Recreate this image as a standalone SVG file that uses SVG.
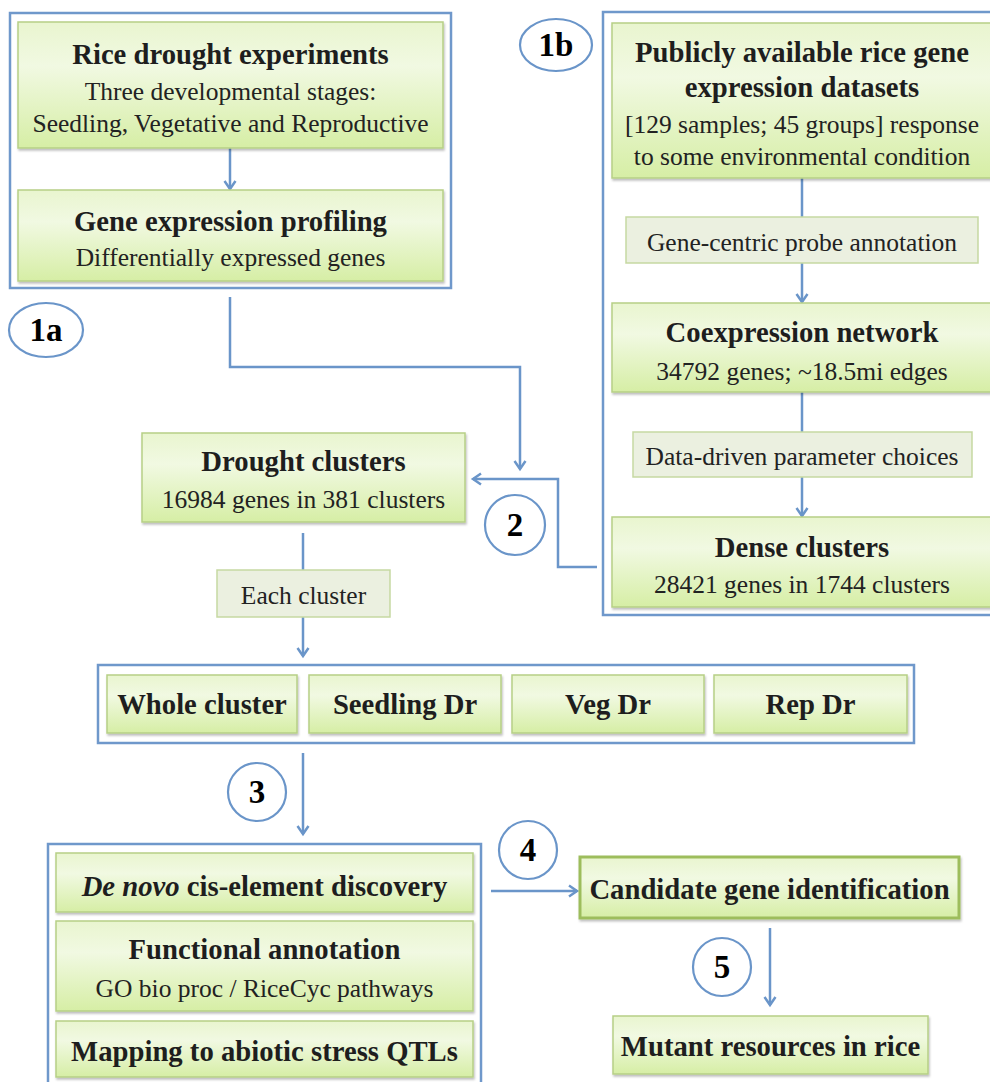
<svg xmlns="http://www.w3.org/2000/svg" width="990" height="1082" viewBox="0 0 990 1082">
<style>
  .grp{fill:none;stroke:#6f98cb;stroke-width:2.5}
  .box{fill:url(#g);stroke:#b6cf86;stroke-width:1.5;filter:url(#sh)}
  .lbl{fill:#ebf0e0;stroke:#c6d9a2;stroke-width:1.5}
  .t{font-family:"Liberation Serif","Times New Roman",serif;font-weight:bold;font-size:28.7px;fill:#1e1e1e;text-anchor:middle}
  .s{font-family:"Liberation Serif","Times New Roman",serif;font-size:25.5px;fill:#222;text-anchor:middle}
  .c{fill:#fff;stroke:#6a95c9;stroke-width:2.2}
  .n{font-family:"Liberation Serif","Times New Roman",serif;font-weight:bold;font-size:33px;fill:#000;text-anchor:middle}
  .ln{fill:none;stroke:#6a95c9;stroke-width:2.5}
</style>
<defs>
  <linearGradient id="g" x1="0" y1="0" x2="0" y2="1">
    <stop offset="0" stop-color="#e9f5cf"/>
    <stop offset="0.35" stop-color="#f1f9e2"/>
    <stop offset="1" stop-color="#d6eea5"/>
  </linearGradient>
  <filter id="sh" x="-5%" y="-10%" width="110%" height="130%">
    <feDropShadow dx="1" dy="2" stdDeviation="1.2" flood-color="#000" flood-opacity="0.25"/>
  </filter>
  <marker id="ah" viewBox="0 0 14 14" refX="11" refY="7" markerWidth="14" markerHeight="14" orient="auto" markerUnits="userSpaceOnUse">
    <path d="M3,1.5 L11,7 L3,12.5" fill="none" stroke="#6a95c9" stroke-width="2.5"/>
  </marker>
</defs>
<rect width="990" height="1082" fill="#fff"/>

<g id="group-1a"><rect class="grp" x="10" y="13" width="441" height="275"/></g>
<g id="group-1b"><rect class="grp" x="603" y="12" width="395" height="603"/></g>
<g id="group-split"><rect class="grp" x="98" y="665" width="816" height="78"/></g>
<g id="group-analysis"><rect class="grp" x="48" y="844" width="433" height="250"/></g>

<g id="connectors">
  <line class="ln" x1="230" y1="148" x2="230" y2="189" marker-end="url(#ah)"/>
  <path class="ln" d="M230,297 V367 H520 V469" marker-end="url(#ah)"/>
  <line class="ln" x1="802" y1="178" x2="802" y2="217"/>
  <line class="ln" x1="802" y1="263" x2="802" y2="302" marker-end="url(#ah)"/>
  <line class="ln" x1="802" y1="392" x2="802" y2="432"/>
  <line class="ln" x1="802" y1="477" x2="802" y2="516" marker-end="url(#ah)"/>
  <path class="ln" d="M597,567 H558 V479 H473" marker-end="url(#ah)"/>
  <line class="ln" x1="303" y1="533" x2="303" y2="570"/>
  <line class="ln" x1="303" y1="617" x2="303" y2="656" marker-end="url(#ah)"/>
  <line class="ln" x1="303" y1="753" x2="303" y2="834" marker-end="url(#ah)"/>
  <line class="ln" x1="491" y1="891" x2="577" y2="891" marker-end="url(#ah)"/>
  <line class="ln" x1="770" y1="928" x2="770" y2="1005" marker-end="url(#ah)"/>
</g>

<g id="rice-drought">
  <rect class="box" x="18" y="22" width="425" height="126"/>
  <text class="t" x="230.5" y="64">Rice drought experiments</text>
  <text class="s" x="230.5" y="100">Three developmental stages:</text>
  <text class="s" x="230.5" y="132">Seedling, Vegetative and Reproductive</text>
</g>
<g id="gene-expression">
  <rect class="box" x="18" y="190" width="425" height="91"/>
  <text class="t" x="230.5" y="231">Gene expression profiling</text>
  <text class="s" x="230.5" y="266">Differentially expressed genes</text>
</g>
<g id="label-1a"><ellipse class="c" cx="46" cy="330" rx="37" ry="27"/><text class="n" x="46" y="341">1a</text></g>

<g id="public-datasets">
  <rect class="box" x="612" y="23" width="384" height="155"/>
  <text class="t" x="802" y="62">Publicly available rice gene</text>
  <text class="t" x="802" y="97">expression datasets</text>
  <text class="s" x="802" y="133">[129 samples; 45 groups] response</text>
  <text class="s" x="802" y="165">to some environmental condition</text>
</g>
<g id="probe-annotation">
  <rect class="lbl" x="626" y="217" width="352" height="46"/>
  <text class="s" x="802" y="251">Gene-centric probe annotation</text>
</g>
<g id="coexpression">
  <rect class="box" x="612" y="303" width="384" height="89"/>
  <text class="t" x="802" y="342">Coexpression network</text>
  <text class="s" x="802" y="380">34792 genes; ~18.5mi edges</text>
</g>
<g id="parameter-choices">
  <rect class="lbl" x="633" y="432" width="339" height="45"/>
  <text class="s" x="802" y="465">Data-driven parameter choices</text>
</g>
<g id="dense-clusters">
  <rect class="box" x="612" y="517" width="384" height="90"/>
  <text class="t" x="802" y="557">Dense clusters</text>
  <text class="s" x="802" y="593">28421 genes in 1744 clusters</text>
</g>
<g id="label-1b"><ellipse class="c" cx="556" cy="45" rx="36" ry="26"/><text class="n" x="556" y="56">1b</text></g>

<g id="drought-clusters">
  <rect class="box" x="142" y="433" width="323" height="89"/>
  <text class="t" x="303.5" y="471">Drought clusters</text>
  <text class="s" x="303.5" y="508">16984 genes in 381 clusters</text>
</g>
<g id="label-2"><circle class="c" cx="515" cy="525" r="30"/><text class="n" x="515" y="536">2</text></g>
<g id="each-cluster">
  <rect class="lbl" x="217" y="570" width="173" height="47"/>
  <text class="s" x="303.5" y="604">Each cluster</text>
</g>

<g id="whole-cluster"><rect class="box" x="107" y="675" width="190" height="58"/><text class="t" x="202" y="714">Whole cluster</text></g>
<g id="seedling-dr"><rect class="box" x="309" y="675" width="192" height="58"/><text class="t" x="405" y="714">Seedling Dr</text></g>
<g id="veg-dr"><rect class="box" x="512" y="675" width="192" height="58"/><text class="t" x="608" y="714">Veg Dr</text></g>
<g id="rep-dr"><rect class="box" x="714" y="675" width="193" height="58"/><text class="t" x="810.5" y="714">Rep Dr</text></g>

<g id="label-3"><circle class="c" cx="257" cy="792" r="29"/><text class="n" x="257" y="803">3</text></g>

<g id="de-novo">
  <rect class="box" x="56" y="853" width="417" height="59"/>
  <text class="t" x="264.5" y="896"><tspan font-style="italic">De novo</tspan> cis-element discovery</text>
</g>
<g id="functional-annotation">
  <rect class="box" x="56" y="921" width="417" height="90"/>
  <text class="t" x="264.5" y="959">Functional annotation</text>
  <text class="s" x="264.5" y="997">GO bio proc / RiceCyc pathways</text>
</g>
<g id="qtl-mapping">
  <rect class="box" x="56" y="1021" width="417" height="56"/>
  <text class="t" x="264.5" y="1061">Mapping to abiotic stress QTLs</text>
</g>

<g id="label-4"><circle class="c" cx="528" cy="850" r="29"/><text class="n" x="528" y="861">4</text></g>
<g id="candidate-gene">
  <rect class="box" x="580" y="857" width="379" height="61" style="stroke:#9dbd5c;stroke-width:3"/>
  <text class="t" x="769.5" y="899">Candidate gene identification</text>
</g>
<g id="label-5"><circle class="c" cx="722" cy="967" r="29"/><text class="n" x="722" y="978">5</text></g>
<g id="mutant-resources">
  <rect class="box" x="613" y="1016" width="315" height="58"/>
  <text class="t" x="770.5" y="1056">Mutant resources in rice</text>
</g>
</svg>
